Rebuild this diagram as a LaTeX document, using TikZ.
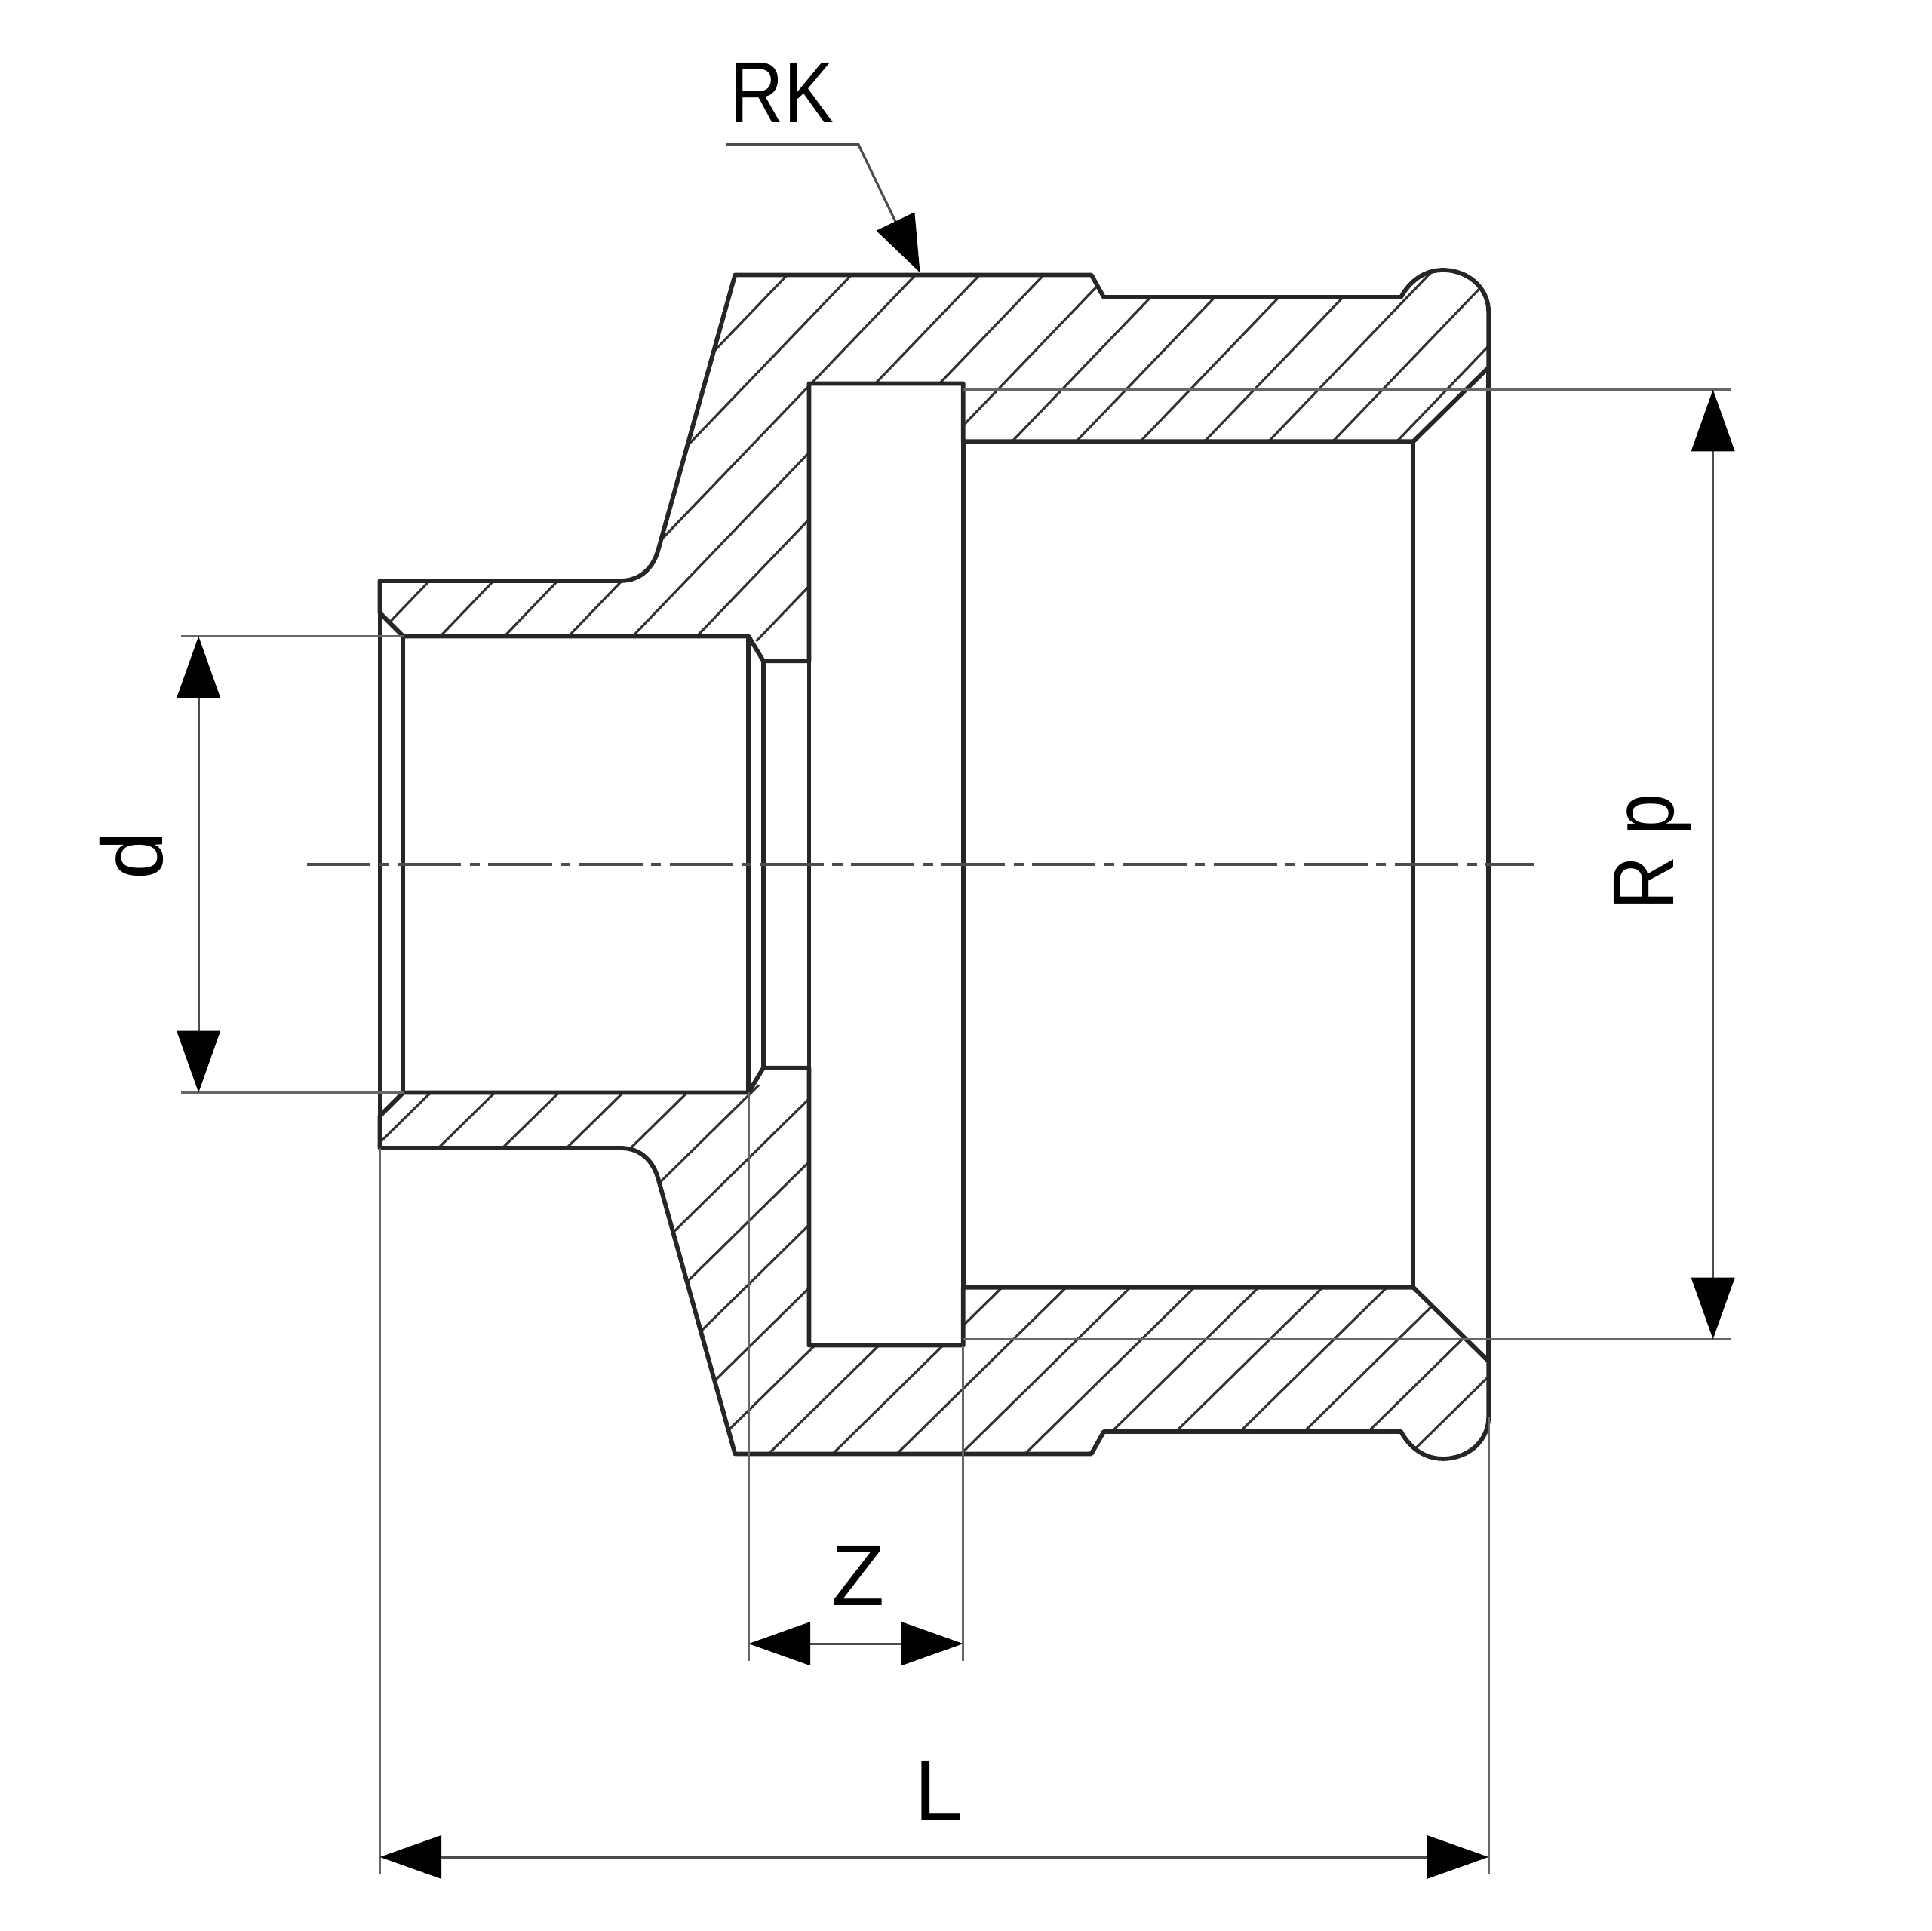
\documentclass[tikz,border=0pt]{standalone}
\usepackage{graphicx}
\usepackage{fontspec}
\setmainfont{Liberation Sans}
\usetikzlibrary{arrows.meta}

\begin{document}
\begin{tikzpicture}[x=0.1mm,y=-0.1mm]
        \tikzstyle{every node}=[inner sep=0pt,font=\fontsize{20}{24}\selectfont]
        \tikzstyle{outline}=[line width=1pt,line join=round,black!85]
        \tikzstyle{hatch}=[line width=0.55pt,black!80]
        \tikzstyle{thin line}=[line width=0.55pt,black!60]
        \tikzstyle{dim line}=[line width=0.55pt,black!70,{Triangle[length=5mm,width=3.5mm,black]}-{Triangle[length=5mm,width=3.5mm,black]}]
        \tikzstyle{center line}=[line width=0.6pt,black!70,dash pattern=on 5.15mm off 0.7mm on 0.8mm off 0.7mm]
        \useasboundingbox (0,0) rectangle (1566,1566);
        \fill[white] (0,0) rectangle (1566,1566);
        \def\upperwall{(308,471) -- (503,471) .. controls (520,471) and (530,460) .. (534,445) -- (596,223) -- (885,223) -- (895,241) -- (1136,241) .. controls (1143,228) and (1155,219) .. (1170,219) .. controls (1190,219) and (1207,233) .. (1207,253) -- (1207,298) -- (1146,358) -- (781,358) -- (781,311) -- (656,311) -- (656,536) -- (619,536) -- (607,516) -- (327,516) -- (308,497) -- cycle}
        \def\lowerwall{(308,931) -- (503,931) .. controls (520,931) and (530,942) .. (534,957) -- (596,1179) -- (885,1179) -- (895,1161) -- (1136,1161) .. controls (1143,1174) and (1155,1183) .. (1170,1183) .. controls (1190,1183) and (1207,1169) .. (1207,1149) -- (1207,1104) -- (1146,1044) -- (781,1044) -- (781,1091) -- (656,1091) -- (656,866) -- (619,866) -- (607,886) -- (327,886) -- (308,905) -- cycle}
        \begin{scope}
            \clip \upperwall;
            \foreach \n in {-7,...,17} \draw[hatch] ({852.4+52*\n-0.96*200},200) -- ({852.4+52*\n-0.96*520},520);
        \end{scope}
        \begin{scope}
            \clip \lowerwall;
            \foreach \n in {-3,...,22} \draw[hatch] ({1302.3+52*\n-1.017*880},880) -- ({1302.3+52*\n-1.017*1190},1190);
        \end{scope}
        \draw[outline] \upperwall;
        \draw[outline] \lowerwall;
        \draw[outline] (308,497) -- (308,905) (327,516) -- (327,886) (607,516) -- (607,886) (619,536) -- (619,866) (656,536) -- (656,866) (781,358) -- (781,1044) (1146,358) -- (1146,1044) (1207,298) -- (1207,1104);
        \coordinate (axis start) at (249,701);
        \coordinate (axis end) at (1244,701);
        \draw[center line] (axis start) -- (axis end);
        \coordinate (d top) at (161,516);
        \coordinate (d bottom) at (161,886);
        \draw[thin line] (147,516) -- (327,516) (147,886) -- (327,886);
        \draw[dim line] (d top) -- (d bottom);
        \node[rotate=90] (d label) at (107,694) {d};
        \coordinate (rp top) at (1389,316);
        \coordinate (rp bottom) at (1389,1086);
        \draw[thin line] (781,316) -- (1403,316) (781,1086) -- (1403,1086);
        \draw[dim line] (rp top) -- (rp bottom);
        \node[rotate=90] (rp label) at (1340,691) {\scalebox{0.86}[1]{R p}};
        \coordinate (z left) at (607,1333);
        \coordinate (z right) at (781,1333);
        \draw[thin line] (607,886) -- (607,1347) (781,1091) -- (781,1347);
        \draw[dim line] (z left) -- (z right);
        \node (z label) at (696,1278) {Z};
        \coordinate (l left) at (308,1506);
        \coordinate (l right) at (1207,1506);
        \draw[thin line] (308,931) -- (308,1520) (1207,1149) -- (1207,1520);
        \draw[dim line] (l left) -- (l right);
        \node (l label) at (761,1452) {L};
        \node (rk label) at (634,75) {\scalebox{0.86}[1]{RK}};
        \coordinate (rk start) at (589,117);
        \coordinate (rk bend) at (696,117);
        \coordinate (rk tip) at (746,221);
        \draw[line width=0.55pt,black!70,-{Triangle[length=4.6mm,width=3.4mm,black]}] (rk start) -- (rk bend) -- (rk tip);
    \end{tikzpicture}
\end{document}
